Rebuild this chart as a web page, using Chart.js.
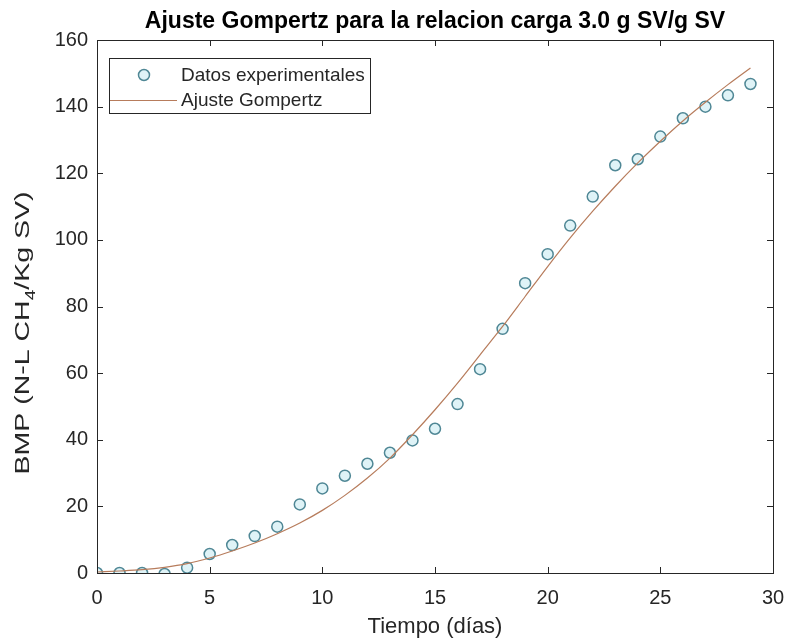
<!DOCTYPE html>
<html>
<head>
<meta charset="utf-8">
<script src="https://cdn.jsdelivr.net/npm/chart.js@4"></script>
<style>
  html, body { margin: 0; padding: 0; background: #fff; }
  #wrap { width: 788px; height: 643px; }
</style>
</head>
<body>
<div id="wrap"><canvas id="myChart" width="788" height="643"></canvas></div>
<script>
// Tiempo (días) y BMP medido
var dias = [0, 1, 2, 3, 4, 5, 6, 7, 8, 9, 10, 11, 12, 13, 14, 15, 16, 17, 18, 19, 20, 21, 22, 23, 24, 25, 26, 27, 28, 29];
var bmpExperimental = [0, 0, 0, -0.3, 1.6, 5.7, 8.4, 11.1, 13.9, 20.6, 25.4, 29.2, 32.8, 36.1, 39.8, 43.3, 50.7, 61.2, 73.3, 87.0, 95.7, 104.3, 113.0, 122.4, 124.2, 131.0, 136.5, 140.0, 143.4, 146.8];
// curva ajustada (modelo de Gompertz)
var bmpAjuste = [0.3, 0.6, 1.0, 1.7, 2.8, 4.5, 6.6, 9.0, 11.8, 15.0, 18.8, 23.3, 28.5, 34.5, 41.5, 49.0, 57.0, 65.5, 74.0, 83.0, 92.0, 100.6, 108.6, 116.1, 123.1, 129.6, 135.7, 141.3, 146.6, 151.6];

var xTicks = [0, 5, 10, 15, 20, 25, 30];
var yTicks = [0, 20, 40, 60, 80, 100, 120, 140, 160];

var textColor = '#262626';
var colorDatos = '#4f8795';
var rellenoDatos = 'rgba(215, 240, 245, 0.8)';
var colorAjuste = '#b77c5c';
var fuente = "'Liberation Sans', Arial, sans-serif";

function puntos(xs, ys) {
    return xs.map(function (x, i) { return { x: x, y: ys[i] }; });
}

// caja de ejes con marcas hacia dentro, leyenda y etiqueta del eje y con subíndice
var marcoPlugin = {
    id: 'marco',
    afterDatasetsDraw: function (chart) {
        var ctx = chart.ctx;
        var a = chart.chartArea;
        var sx = chart.scales.x, sy = chart.scales.y;
        var len = 6;
        ctx.save();
        ctx.strokeStyle = textColor;
        ctx.lineWidth = 1;
        ctx.beginPath();
        xTicks.forEach(function (v) {
            var px = Math.round(sx.getPixelForValue(v)) + 0.5;
            ctx.moveTo(px, a.bottom); ctx.lineTo(px, a.bottom - len);
            ctx.moveTo(px, a.top); ctx.lineTo(px, a.top + len);
        });
        yTicks.forEach(function (v) {
            var py = Math.round(sy.getPixelForValue(v)) + 0.5;
            ctx.moveTo(a.left, py); ctx.lineTo(a.left + len, py);
            ctx.moveTo(a.right, py); ctx.lineTo(a.right - len, py);
        });
        ctx.stroke();
        ctx.strokeRect(Math.round(a.left) + 0.5, Math.round(a.top) + 0.5,
            Math.round(a.right - a.left), Math.round(a.bottom - a.top));

        // leyenda
        var ds = chart.data.datasets;
        var lx = a.left + 12, ly = a.top + 18, lw = 261, lh = 55;
        ctx.fillStyle = '#fff';
        ctx.fillRect(lx, ly, lw, lh);
        ctx.strokeRect(lx + 0.5, ly + 0.5, lw, lh);
        ctx.font = '19px ' + fuente;
        ctx.textBaseline = 'middle';
        ctx.fillStyle = textColor;
        ctx.fillText(ds[0].label, lx + 72, ly + 18);
        ctx.fillText(ds[1].label, lx + 72, ly + 43);
        ctx.beginPath();
        ctx.arc(lx + 35, ly + 17, 5.5, 0, Math.PI * 2);
        ctx.fillStyle = rellenoDatos;
        ctx.fill();
        ctx.lineWidth = 1.5;
        ctx.strokeStyle = colorDatos;
        ctx.stroke();
        ctx.beginPath();
        ctx.lineWidth = 1.2;
        ctx.strokeStyle = colorAjuste;
        ctx.moveTo(lx + 1, ly + 42.5);
        ctx.lineTo(lx + 68, ly + 42.5);
        ctx.stroke();

        // etiqueta del eje y: BMP (N-L CH4/Kg SV) con el 4 como subíndice
        var p1 = 'BMP (N-L CH', p2 = '4', p3 = '/Kg SV)';
        ctx.font = '21px ' + fuente;
        var w1 = ctx.measureText(p1).width, w3 = ctx.measureText(p3).width;
        ctx.font = '14px ' + fuente;
        var w2 = ctx.measureText(p2).width;
        var total = w1 + w2 + w3;
        ctx.translate(28.5, 333);
        ctx.rotate(-Math.PI / 2);
        ctx.scale(283 / total, 1);
        ctx.fillStyle = textColor;
        ctx.textBaseline = 'alphabetic';
        var x0 = -total / 2;
        ctx.font = '21px ' + fuente;
        ctx.fillText(p1, x0, 0);
        ctx.font = '14px ' + fuente;
        ctx.fillText(p2, x0 + w1, 6);
        ctx.font = '21px ' + fuente;
        ctx.fillText(p3, x0 + w1 + w2, 0);
        ctx.restore();
    }
};

var ctx = document.getElementById('myChart').getContext('2d');
var chart = new Chart(ctx, {
    type: 'scatter',
    data: {
        datasets: [
            {
                label: 'Datos experimentales',
                data: puntos(dias, bmpExperimental),
                borderColor: colorDatos,
                backgroundColor: rellenoDatos,
                pointRadius: 5.5,
                pointBorderWidth: 1.5,
                showLine: false,
                order: 1
            },
            {
                label: 'Ajuste Gompertz',
                data: puntos(dias, bmpAjuste),
                borderColor: colorAjuste,
                borderWidth: 1.2,
                pointRadius: 0,
                showLine: true,
                cubicInterpolationMode: 'monotone',
                order: 0
            }
        ]
    },
    options: {
        responsive: false,
        animation: false,
        layout: { padding: { left: 0, right: 15, top: 0, bottom: 0 } },
        plugins: {
            legend: { display: false },
            tooltip: { enabled: false },
            title: {
                display: true,
                fullSize: false,
                text: 'Ajuste Gompertz para la relacion carga 3.0 g SV/g SV',
                color: '#000',
                font: { family: fuente, size: 23, weight: 'bold' },
                padding: { top: 8, bottom: 4.4 }
            }
        },
        scales: {
            x: {
                type: 'linear',
                min: 0,
                max: 30,
                afterFit: function (s) {
                    s.height = 70;
                    s.paddingLeft = 0;
                    s.paddingRight = 0;
                },
                grid: { display: false, drawTicks: false },
                border: { display: false },
                ticks: {
                    stepSize: 5,
                    color: textColor,
                    padding: 13,
                    font: { family: fuente, size: 20 }
                },
                title: {
                    display: true,
                    text: 'Tiempo (días)',
                    color: textColor,
                    font: { family: fuente, size: 22 },
                    padding: { bottom: 3 }
                }
            },
            y: {
                type: 'linear',
                min: 0,
                max: 160,
                afterFit: function (s) { s.width = 97; },
                grid: { display: false, drawTicks: false },
                border: { display: false },
                ticks: {
                    stepSize: 20,
                    color: textColor,
                    padding: 9,
                    font: { family: fuente, size: 20 }
                }
            }
        }
    },
    plugins: [marcoPlugin]
});
</script>
</body>
</html>
